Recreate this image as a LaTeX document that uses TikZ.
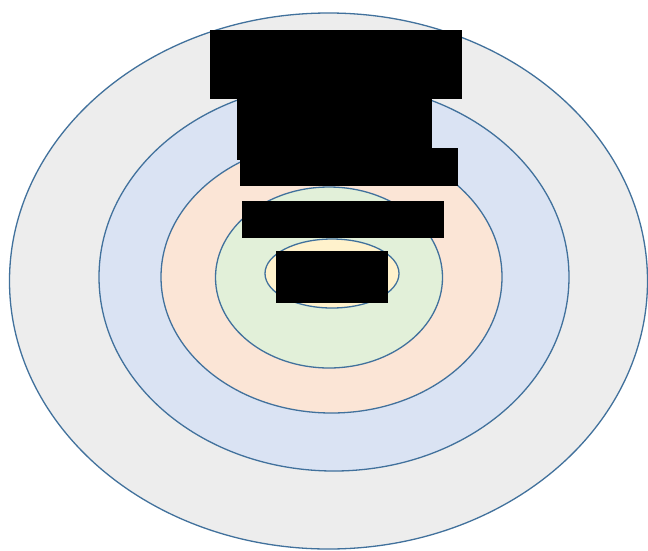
\documentclass[tikz,border=0pt]{standalone}
\usetikzlibrary{shapes.geometric}
\definecolor{ringline}{HTML}{41719C}
\definecolor{ringgray}{HTML}{EDEDED}
\definecolor{ringblue}{HTML}{DAE3F3}
\definecolor{ringpeach}{HTML}{FBE5D6}
\definecolor{ringgreen}{HTML}{E2F0D9}
\definecolor{ringyellow}{HTML}{FFF2CC}
\tikzset{
  ring/.style={ellipse, draw=ringline, line width=1.3pt, inner sep=0pt, outer sep=0pt},
  blackbox/.style={fill=black, draw=none}
}
\begin{document}
\begin{tikzpicture}[x=1pt,y=-1pt]
\useasboundingbox (0,0) rectangle (648,550);
\fill[white] (0,0) rectangle (648,550);
\node[ring, fill=ringgray, minimum width=638pt, minimum height=536pt] (r1) at (328.5,281) {};
\node[ring, fill=ringblue, minimum width=470pt, minimum height=388pt] (r2) at (334,277) {};
\node[ring, fill=ringpeach, minimum width=341pt, minimum height=272pt] (r3) at (331.5,277) {};
\node[ring, fill=ringgreen, minimum width=227pt, minimum height=181pt] (r4) at (329,277.5) {};
\node[ring, fill=ringyellow, minimum width=134pt, minimum height=69pt] (r5) at (332,273.5) {};
\fill[blackbox] (210,30) rectangle (462,99);
\fill[blackbox] (236.7,98) rectangle (432,160);
\fill[blackbox] (240,147.7) rectangle (458,185.7);
\fill[blackbox] (242,200.7) rectangle (444,237.7);
\fill[blackbox] (276,250.7) rectangle (388,302.7);
\end{tikzpicture}
\end{document}
